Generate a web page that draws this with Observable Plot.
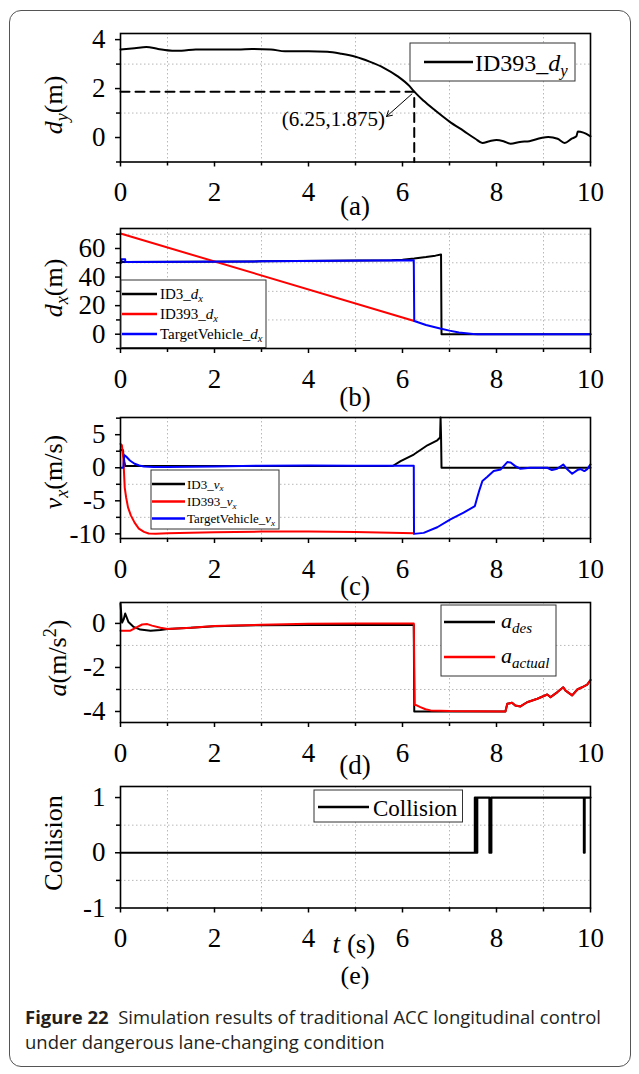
<!DOCTYPE html>
<html><head><meta charset="utf-8">
<script src="https://cdn.jsdelivr.net/npm/d3@7"></script>
<script src="https://cdn.jsdelivr.net/npm/@observablehq/plot@0.6"></script>
<style>
body{margin:0;background:#fff;}
#wrap{position:relative;width:639px;height:1074px;overflow:hidden;background:#fff;}
#wrap svg, #wrap svg text{font-family:"Liberation Serif","Times New Roman",serif !important;}
#border{position:absolute;left:9px;top:10px;width:622px;height:1057px;border:1px solid #555;border-radius:12px;box-sizing:border-box;}
.cap{position:absolute;left:25px;font-family:"Open Sans","Noto Sans",sans-serif;font-size:18px;color:#231f20;white-space:nowrap;transform-origin:0 50%;line-height:25px;}
</style></head>
<body><div id="wrap"><div id="border"></div></div>
<script>
// ---------- data ----------
const xMajorTicks = [0, 2, 4, 6, 8, 10];
const xMinorTicks = [1, 3, 5, 7, 9];

// (a) lateral distance of ID393
const dyTime = [0, 0.3, 0.55, 0.8, 1.1, 1.3, 1.6, 2.0, 2.5, 2.8, 3.2, 3.5, 4.0, 4.4, 4.7, 5.0, 5.3, 5.6, 5.9, 6.15, 6.25, 6.45, 6.7, 7.0, 7.3, 7.55, 7.7, 7.85, 8.0, 8.15, 8.3, 8.5, 8.7, 8.95, 9.1, 9.3, 9.45, 9.6, 9.7, 9.73, 9.85, 10];
const dyVal  = [3.6, 3.65, 3.7, 3.62, 3.55, 3.55, 3.6, 3.6, 3.6, 3.62, 3.6, 3.52, 3.52, 3.5, 3.42, 3.3, 3.1, 2.85, 2.5, 2.1, 1.875, 1.5, 1.1, 0.65, 0.27, -0.05, -0.22, -0.15, -0.1, -0.15, -0.25, -0.18, -0.15, -0.02, 0.02, -0.05, -0.22, -0.05, 0.05, 0.25, 0.2, 0.05];
const annotT = 6.25, annotV = 1.875, annotLabel = "(6.25,1.875)";

// (b) longitudinal distance
const dxId3Time = [0, 3, 5.77, 6.0, 6.25, 6.5, 6.7, 6.82, 6.83, 10];
const dxId3Val  = [50.5, 51, 51.7, 52.2, 53, 54, 55, 55.8, 0, 0];
const dxId393Time = [0, 6.25];
const dxId393Val  = [70.5, 9.3];
const dxTgtTime = [0, 0.02, 0.02, 0.1, 0.1, 3, 6.24, 6.25, 6.5, 6.8, 7.0, 7.2, 7.5, 7.6, 10];
const dxTgtVal  = [50, 50, 52.5, 52.5, 50.5, 51, 51.8, 9.3, 6.5, 4, 2.5, 1.2, 0.2, 0, 0];

// (c) longitudinal velocity
const vxId3Time = [0, 0.05, 0.08, 0.1, 5.64, 5.8, 5.96, 6.24, 6.53, 6.74, 6.79, 6.8, 6.81, 6.82, 6.83, 10];
const vxId3Val  = [2.7, 2.7, 1, 0.25, 0.25, 0.3, 1.0, 2.0, 3.4, 4.15, 4.5, 4.6, 7.6, 4.8, 0, 0];
const vxId393Time = [0, 0.03, 0.06, 0.09, 0.12, 0.16, 0.22, 0.3, 0.39, 0.5, 0.6, 0.75, 1, 2, 3, 4, 5, 6, 6.25];
const vxId393Val  = [3.6, 3.4, 1.5, -3, -4.5, -6, -7.2, -8.3, -9.2, -9.7, -9.95, -10, -9.9, -9.75, -9.65, -9.65, -9.7, -9.85, -9.9];
const vxTgtTime = [0, 0.06, 0.08, 0.12, 0.2, 0.3, 0.4, 0.5, 0.7, 1, 2, 3, 4, 5, 6, 6.24, 6.245, 6.45, 6.74, 7.02, 7.3, 7.54, 7.59, 7.64, 7.7, 7.8, 7.94, 8.09, 8.23, 8.3, 8.4, 8.51, 8.72, 9.08, 9.18, 9.29, 9.42, 9.5, 9.61, 9.72, 9.79, 9.87, 9.93, 10];
const vxTgtVal  = [0, 0, 1.9, 1.7, 1.1, 0.6, 0.35, 0.2, 0.1, 0.1, 0.2, 0.3, 0.35, 0.3, 0.3, 0.3, -10, -9.85, -9.0, -7.8, -6.8, -5.8, -4.5, -3.3, -2.0, -1.4, -0.5, -0.25, 0.86, 0.8, 0.25, -0.15, 0, 0, -0.35, -0.15, 0.5, -0.2, -0.9, -0.35, -0.2, -0.5, -0.2, 0.5];

// (d) acceleration
const aDesTime = [0, 0.02, 0.035, 0.07, 0.1, 0.17, 0.28, 0.42, 0.64, 0.85, 1.0, 1.5, 2, 3, 4, 5, 6.24, 6.25, 8.19, 8.23, 8.33, 8.4, 8.51, 8.65, 8.87, 9.08, 9.15, 9.29, 9.42, 9.47, 9.61, 9.72, 9.82, 9.93, 10];
const aDesVal  = [0.9, 0.3, 0.04, 0.2, 0.45, 0.06, -0.16, -0.28, -0.33, -0.3, -0.25, -0.2, -0.13, -0.08, -0.07, -0.07, -0.07, -4, -4, -3.65, -3.6, -3.73, -3.77, -3.58, -3.42, -3.23, -3.35, -3.13, -2.9, -3.05, -3.27, -3.0, -2.9, -2.78, -2.57];
const aActTime = [0, 0.21, 0.32, 0.46, 0.57, 0.67, 0.85, 1.0, 1.5, 2, 3, 4, 5, 6.24, 6.26, 6.28, 6.38, 6.49, 6.6, 7.0, 8.19, 8.23, 8.33, 8.4, 8.51, 8.65, 8.87, 9.08, 9.15, 9.29, 9.42, 9.47, 9.61, 9.72, 9.82, 9.93, 10];
const aActVal  = [-0.33, -0.33, -0.2, -0.05, -0.03, -0.1, -0.2, -0.25, -0.2, -0.12, -0.06, -0.02, 0, 0, -3.7, -3.7, -3.8, -3.9, -3.95, -3.98, -4, -3.65, -3.6, -3.73, -3.77, -3.58, -3.42, -3.23, -3.35, -3.13, -2.9, -3.05, -3.27, -3.0, -2.9, -2.78, -2.57];

// (e) collision flag
const colTime = [0, 7.54, 7.54, 7.57, 7.57, 7.59, 7.59, 7.85, 7.85, 7.89, 7.89, 9.86, 9.86, 9.875, 9.875, 10];
const colVal  = [0, 0, 1, 1, 0, 0, 1, 1, 0, 0, 1, 1, 0, 0, 1, 1];

// ---------- helpers ----------
const FONT = '"Liberation Serif","Times New Roman",serif';
const zip = (ts, vs) => ts.map((t, i) => ({t, v: vs[i]}));
const wrap = document.getElementById("wrap");

function panel({frameTop, frameBottom, yDomain, yMajor, yMinorTicks, yGrid, marks, mb = 70}) {
  const mt = 12;
  const H = mt + (frameBottom - frameTop) + mb;
  const svg = Plot.plot({
    width: 639, height: H,
    marginLeft: 120, marginRight: 49, marginTop: mt, marginBottom: mb,
    x: {domain: [0, 10], label: null},
    y: {domain: yDomain, label: null},
    style: {fontSize: "27px", background: "transparent", color: "#000", overflow: "visible"},
    marks: [
      Plot.gridX(xMinorTicks, {stroke: "#b8b8b8", strokeOpacity: 1, strokeDasharray: "1.5,2.5", strokeWidth: 1}),
      Plot.gridY(yGrid, {stroke: "#b8b8b8", strokeOpacity: 1, strokeDasharray: "1.5,2.5", strokeWidth: 1}),
      ...marks,
      Plot.frame({stroke: "#000", strokeWidth: 1.6}),
      Plot.axisX(xMajorTicks, {tickSize: 5, tickPadding: 15, strokeWidth: 1.5, tickFormat: d => String(d), label: null}),
      Plot.axisX(xMinorTicks, {tickSize: 4, strokeWidth: 1.5, tickFormat: () => "", label: null}),
      Plot.axisY(yMajor, {tickSize: 5, tickPadding: 10, strokeWidth: 1.5, tickFormat: d => String(d), label: null}),
      Plot.axisY(yMinorTicks, {tickSize: 4, strokeWidth: 1.5, tickFormat: () => "", label: null})
    ]
  });
  const top = frameTop - mt;
  svg.style.position = "absolute";
  svg.style.left = "0px";
  svg.style.top = top + "px";
  wrap.appendChild(svg);
  return {sel: d3.select(svg), top};
}

// rich text: parts = [{t, i, sub, sup}]
function rich(p, x, yPage, parts, size, {anchor = "start", rotate = false} = {}) {
  const y = yPage - p.top;
  const t = p.sel.append("text").attr("font-family", FONT).attr("font-size", size)
    .attr("text-anchor", anchor).attr("fill", "#000");
  if (rotate) t.attr("transform", `translate(${x},${y}) rotate(-90)`);
  else t.attr("x", x).attr("y", y);
  let shift = 0;
  for (const q of parts) {
    const s = t.append("tspan").text(q.t);
    let target = 0;
    if (q.sub) { s.attr("font-size", q.size || size * 0.7); target = size * 0.22; }
    if (q.sup) { s.attr("font-size", size * 0.7); target = -size * 0.4; }
    if (q.size && !q.sub) s.attr("font-size", q.size);
    if (q.i) s.attr("font-style", "italic");
    if (target !== shift) { s.attr("dy", target - shift); shift = target; }
  }
  return t;
}
function box(p, x, yPage, w, h) {
  p.sel.append("rect").attr("x", x).attr("y", yPage - p.top).attr("width", w).attr("height", h)
    .attr("fill", "#fff").attr("stroke", "#333").attr("stroke-width", 1);
}
function sample(p, x1, x2, yPage, color) {
  p.sel.append("line").attr("x1", x1).attr("x2", x2).attr("y1", yPage - p.top).attr("y2", yPage - p.top)
    .attr("stroke", color).attr("stroke-width", 2.6);
}

// ---------- (a) ----------
const pa = panel({
  frameTop: 33, frameBottom: 161.5, yDomain: [-1, 4.25],
  yMajor: [0, 2, 4], yMinorTicks: [-1, 1, 3], yGrid: [1, 3],
  marks: [
    Plot.line(zip(dyTime, dyVal), {x: "t", y: "v", stroke: "#000", strokeWidth: 2, curve: "monotone-x"}),
    Plot.line([{t: 0, v: annotV}, {t: annotT, v: annotV}, {t: annotT, v: -1}], {x: "t", y: "v", stroke: "#000", strokeWidth: 2, strokeDasharray: "9,6"}),
    Plot.arrow([{x1: 6.2, y1: 1.78, x2: 5.66, y2: 0.86}], {x1: "x1", y1: "y1", x2: "x2", y2: "y2", stroke: "#000", strokeWidth: 1, headLength: 9}),
    Plot.text([{t: 4.53, v: 0.76, s: annotLabel}], {x: "t", y: "v", text: "s", fontSize: 21, fill: "#000"})
  ]
});
rich(pa, 62, 105, [{t: "d", i: true}, {t: "y", i: true, sub: true}, {t: "(m)"}], 26, {anchor: "middle", rotate: true});
box(pa, 410, 43, 165, 38);
sample(pa, 424, 473, 62, "#000");
rich(pa, 475, 71, [{t: "ID393_"}, {t: "d", i: true}, {t: "y", i: true, sub: true}], 24);
rich(pa, 355, 215, [{t: "(a)"}], 27, {anchor: "middle"});

// ---------- (b) ----------
const pb = panel({
  frameTop: 228, frameBottom: 348, yDomain: [-10, 74],
  yMajor: [0, 20, 40, 60], yMinorTicks: [-10, 10, 30, 50, 70], yGrid: [10, 30, 50, 70],
  marks: [
    Plot.line(zip(dxId3Time, dxId3Val), {x: "t", y: "v", stroke: "#000", strokeWidth: 2}),
    Plot.line(zip(dxId393Time, dxId393Val), {x: "t", y: "v", stroke: "#ff0000", strokeWidth: 2}),
    Plot.line(zip(dxTgtTime, dxTgtVal), {x: "t", y: "v", stroke: "#0000ff", strokeWidth: 2})
  ]
});
rich(pb, 62, 288, [{t: "d", i: true}, {t: "x", i: true, sub: true}, {t: "(m)"}], 26, {anchor: "middle", rotate: true});
box(pb, 121, 280, 145, 67.5);
[["ID3_", "#000", 294], ["ID393_", "#ff0000", 314], ["TargetVehicle_", "#0000ff", 334]].forEach(([name, c, y]) => {
  sample(pb, 122, 157, y, c);
  rich(pb, 160, y + 5, [{t: name}, {t: "d", i: true}, {t: "x", i: true, sub: true}], 15);
});
rich(pb, 355, 406, [{t: "(b)"}], 27, {anchor: "middle"});

// ---------- (c) ----------
const pc = panel({
  frameTop: 417, frameBottom: 538, yDomain: [-10.7, 7.6],
  yMajor: [-10, -5, 0, 5], yMinorTicks: [-7.5, -2.5, 2.5, 7.5], yGrid: [-7.5, -2.5, 2.5],
  marks: [
    Plot.line(zip(vxId3Time, vxId3Val), {x: "t", y: "v", stroke: "#000", strokeWidth: 2}),
    Plot.line(zip(vxId393Time, vxId393Val), {x: "t", y: "v", stroke: "#ff0000", strokeWidth: 2}),
    Plot.line(zip(vxTgtTime, vxTgtVal), {x: "t", y: "v", stroke: "#0000ff", strokeWidth: 2})
  ]
});
rich(pc, 62, 472, [{t: "v", i: true}, {t: "x", i: true, sub: true}, {t: "(m/s)"}], 26, {anchor: "middle", rotate: true});
box(pc, 151, 470, 128, 59);
[["ID3_", "#000", 484], ["ID393_", "#ff0000", 501.5], ["TargetVehicle_", "#0000ff", 518.5]].forEach(([name, c, y]) => {
  sample(pc, 152, 185, y, c);
  rich(pc, 187, y + 4.5, [{t: name}, {t: "v", i: true}, {t: "x", i: true, sub: true}], 13);
});
rich(pc, 355, 595, [{t: "(c)"}], 27, {anchor: "middle"});

// ---------- (d) ----------
const pd = panel({
  frameTop: 602, frameBottom: 722, yDomain: [-4.5, 0.95],
  yMajor: [-4, -2, 0], yMinorTicks: [-3, -1], yGrid: [-3, -1],
  marks: [
    Plot.line(zip(aDesTime, aDesVal), {x: "t", y: "v", stroke: "#000", strokeWidth: 2}),
    Plot.line(zip(aActTime, aActVal), {x: "t", y: "v", stroke: "#ff0000", strokeWidth: 2})
  ]
});
rich(pd, 66, 658, [{t: "a", i: true}, {t: "(m/s"}, {t: "2", sup: true}, {t: ")"}], 26, {anchor: "middle", rotate: true});
box(pd, 441, 605, 115, 71);
sample(pd, 444, 495, 622, "#000");
sample(pd, 444, 495, 657, "#ff0000");
rich(pd, 501, 628, [{t: "a", i: true}, {t: "des", i: true, sub: true, size: 15}], 22);
rich(pd, 501, 663, [{t: "a", i: true}, {t: "actual", i: true, sub: true, size: 15}], 22);
rich(pd, 355, 774, [{t: "(d)"}], 27, {anchor: "middle"});

// ---------- (e) ----------
const pe = panel({
  frameTop: 786, frameBottom: 907.5, yDomain: [-1, 1.2],
  yMajor: [-1, 0, 1], yMinorTicks: [-0.5, 0.5], yGrid: [-0.5, 0.5], mb: 90,
  marks: [
    Plot.line(zip(colTime, colVal), {x: "t", y: "v", stroke: "#000", strokeWidth: 2.2})
  ]
});
rich(pe, 62, 843, [{t: "Collision"}], 26, {anchor: "middle", rotate: true});
box(pe, 314, 790, 148.5, 32);
sample(pe, 318, 369, 807, "#000");
rich(pe, 373, 815.5, [{t: "Collision"}], 23);
rich(pe, 354, 953, [{t: "t", i: true}, {t: " (s)"}], 27, {anchor: "middle"});
rich(pe, 355, 984, [{t: "(e)"}], 26, {anchor: "middle"});

// ---------- caption ----------
const l1 = document.createElement("div");
l1.className = "cap"; l1.style.top = "1005px";
l1.innerHTML = '<b>Figure 22</b>&nbsp; Simulation results of traditional ACC longitudinal control';
const l2 = document.createElement("div");
l2.className = "cap"; l2.style.top = "1030px";
l2.textContent = "under dangerous lane-changing condition";
wrap.appendChild(l1); wrap.appendChild(l2);
const k = 576 / l1.getBoundingClientRect().width;
l1.style.transform = `scaleX(${k})`;
l2.style.transform = `scaleX(${k})`;
</script>
</body></html>
